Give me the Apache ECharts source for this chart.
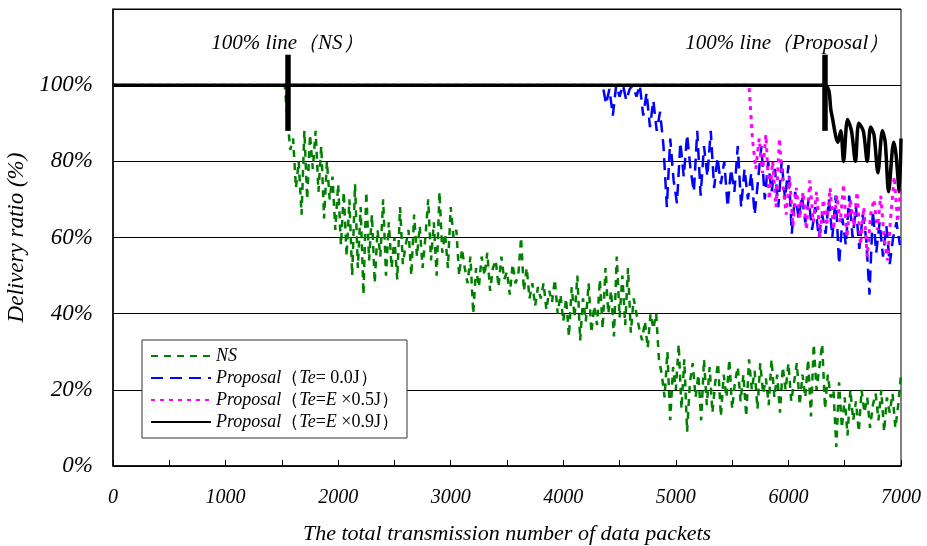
<!DOCTYPE html>
<html>
<head>
<meta charset="utf-8">
<script src="https://cdn.jsdelivr.net/npm/echarts@6/dist/echarts.min.js"></script>
<style>html,body{margin:0;padding:0;background:#fff}#c{width:927px;height:546px}</style>
</head>
<body>
<div id="c"></div>
<script>
// ---- axes ----
const xMin = 0, xMax = 7000, xInterval = 500;
const yMin = 0, yMax = 120, yInterval = 20;
const xAxisName = 'The total transmission number of data packets';
const yAxisName = 'Delivery ratio (%)';

// ---- series names ----
const seriesNames = ['NS', 'Proposal (Te=0.0J)', 'Proposal (Te=E×0.5J)', 'Proposal (Te=E×0.9J)'];

// ---- NS (green): 100% until 1525, then sampled every 25 packets from 1550 ----
const nsFlatX = [0, 1525];
const nsFlatY = [100, 100];
const nsStart = 1550, nsStep = 25;
const nsValues = [
  91, 83, 86, 73, 80, 66, 88, 70, 87, 78,
  88, 72, 84, 65, 80, 70, 76, 62, 74, 58,
  72, 55, 70, 50, 74, 52, 68, 45, 72, 54,
  66, 48, 62, 55, 70, 50, 64, 52, 60, 49,
  68, 53, 58, 62, 50, 66, 55, 63, 52, 60,
  70, 54, 64, 50, 72, 56, 61, 52, 68, 60,
  62, 50, 57, 52, 48, 55, 40, 52, 47, 55,
  50, 56, 46, 52, 54, 47, 55, 49, 51, 45,
  53, 48, 50, 60, 46, 52, 44, 48, 42, 47,
  44, 48, 41, 46, 43, 49, 40, 45, 38, 44,
  34, 47, 39, 50, 33, 44, 38, 48, 35, 42,
  37, 49, 36, 52, 40, 46, 34, 55, 39, 50,
  37, 52, 35, 44, 40, 36, 33, 38, 31, 40,
  36, 40, 28, 24, 18, 30, 12, 26, 20, 32,
  15, 28, 9, 22, 27, 18, 24, 12, 28, 16,
  26, 14, 22, 27, 13, 24, 18, 28, 15, 22,
  26, 17, 24, 13, 28, 20, 25, 15, 27, 19,
  23, 16, 28, 18, 24, 14, 26, 20, 27, 17,
  22, 27, 16, 24, 18, 28, 13, 32, 20, 26,
  32, 15, 24, 18, 20, 5, 22, 10, 18, 8,
  20, 12, 17, 9, 20, 14, 18, 10, 16, 19,
  12, 20, 9, 18, 14, 19, 10, 16, 24
];

// ---- Proposal Te=0.0J (blue): 100% until 4350, then every 30 packets ----
const blueFlatX = [0];
const blueFlatY = [100];
const blueStart = 4350, blueStep = 30;
const blueValues = [
  100, 95, 99, 92, 100, 97, 100, 96, 99, 100,
  97, 100, 92, 98, 89, 96, 88, 93, 84, 68,
  86, 75, 69, 85, 76, 87, 78, 72, 88, 71,
  84, 76, 88, 73, 81, 74, 80, 68, 78, 72,
  84, 68, 78, 70, 77, 66, 75, 84, 70, 80,
  72, 78, 68, 80, 70, 79, 61, 72, 65, 71,
  64, 70, 62, 68, 60, 66, 61, 70, 60, 71,
  53, 65, 58, 71, 60, 68, 57, 66, 60, 45,
  67, 56, 64, 55, 63, 53, 60, 64, 58
];

// ---- Proposal Te=E×0.5J (magenta): 100% until 5650, then every 30 packets ----
const magFlatX = [0];
const magFlatY = [100];
const magStart = 5650, magStep = 30;
const magValues = [
  100, 86, 78, 86, 77, 87, 70, 80, 68, 86,
  74, 66, 76, 63, 73, 65, 72, 62, 75, 64,
  72, 60, 70, 63, 73, 62, 71, 64, 74, 60,
  70, 63, 72, 58, 68, 55, 66, 70, 62, 71,
  60, 54, 66, 76, 64, 74
];

// ---- Proposal Te=E×0.9J (black) ----
const blackX = [0, 6320, 6380, 6440, 6465, 6490, 6525, 6560, 6595, 6625, 6665, 6700, 6730, 6760, 6795, 6835, 6860, 6890, 6935, 6955, 6985, 7000];
const blackY = [100, 100, 93, 85, 88, 80, 91, 88, 80, 90, 88, 80, 89, 87, 77, 88, 85, 72, 85, 82, 72, 86];

// ---- 100% line annotations ----
const markerX = [1550, 6320];
const markerTop = 108, markerBottom = 88;
const annotationTexts = ['100% line（NS）', '100% line（Proposal）'];
const annotationX = [1550, 5990];
const annotationY = 111;

function build(flatX, flatY, start, step, vals) {
  const d = flatX.map((x, i) => [x, flatY[i]]);
  vals.forEach((v, i) => d.push([start + i * step, v]));
  return d;
}

const serif = 'Liberation Serif, Times New Roman, serif';
const legendRich = {
  i: { fontFamily: serif, fontStyle: 'italic', fontSize: 18, color: '#000', lineHeight: 17 },
  n: { fontFamily: serif, fontSize: 18, color: '#000', lineHeight: 17 }
};
const legendFmt = {
  'NS': '{i|NS}',
  'Proposal (Te=0.0J)': '{i|Proposal}{n|（}{i|Te}{n|= 0.0J）}',
  'Proposal (Te=E×0.5J)': '{i|Proposal}{n|（}{i|Te}{n|=}{i|E}{n| ×0.5J）}',
  'Proposal (Te=E×0.9J)': '{i|Proposal}{n|（}{i|Te}{n|=}{i|E}{n| ×0.9J）}'
};

const chart = echarts.init(document.getElementById('c'), null, { renderer: 'canvas' });
chart.setOption({
  animation: false,
  backgroundColor: '#fff',
  grid: { left: 113, right: 26, top: 9, bottom: 80, show: true, borderColor: '#000', borderWidth: 1,
    backgroundColor: 'transparent', containLabel: false, outerBoundsMode: 'none' },
  legend: {
    orient: 'vertical', left: 142, top: 340,
    data: seriesNames,
    itemWidth: 60, itemHeight: 14, itemGap: 4,
    padding: [7, 8, 7, 8],
    backgroundColor: '#fff', borderColor: '#333', borderWidth: 1,
    formatter: n => legendFmt[n],
    itemStyle: { color: 'rgba(0,0,0,0)', borderWidth: 0, opacity: 0 },
    textStyle: { rich: legendRich, lineHeight: 17 },
    z: 10
  },
  xAxis: {
    type: 'value', min: xMin, max: xMax, interval: xInterval,
    name: xAxisName, nameLocation: 'middle', nameGap: 57,
    nameTextStyle: { fontFamily: serif, fontStyle: 'italic', fontSize: 22, color: '#000' },
    axisLine: { lineStyle: { color: '#000', width: 1.5 } },
    axisTick: { inside: true, length: 6, lineStyle: { color: '#000' } },
    axisLabel: { margin: 22, fontFamily: serif, fontStyle: 'italic', fontSize: 20, color: '#000',
      formatter: v => (v % 1000 === 0 ? String(v) : '') },
    splitLine: { show: false }
  },
  yAxis: {
    type: 'value', min: yMin, max: yMax, interval: yInterval,
    name: yAxisName, nameLocation: 'middle', nameGap: 80,
    nameTextStyle: { fontFamily: serif, fontStyle: 'italic', fontSize: 23, color: '#000' },
    axisLine: { show: true, lineStyle: { color: '#000', width: 1.5 } },
    axisTick: { show: false },
    axisLabel: { margin: 20, fontFamily: serif, fontStyle: 'italic', fontSize: 23, color: '#000',
      formatter: v => (v > 100 ? '' : v + '%') },
    splitLine: { show: true, lineStyle: { color: '#000', width: 1 } }
  },
  series: [
    {
      name: seriesNames[0], type: 'line', symbol: 'none',
      data: build(nsFlatX, nsFlatY, nsStart, nsStep, nsValues),
      lineStyle: { color: '#008000', width: 2.5, type: [7, 6] },
      itemStyle: { color: '#008000' }
    },
    {
      name: seriesNames[1], type: 'line', symbol: 'none',
      data: build(blueFlatX, blueFlatY, blueStart, blueStep, blueValues),
      lineStyle: { color: '#0000ff', width: 2.5, type: [12, 7] },
      itemStyle: { color: '#0000ff' }
    },
    {
      name: seriesNames[2], type: 'line', symbol: 'none',
      data: build(magFlatX, magFlatY, magStart, magStep, magValues),
      lineStyle: { color: '#ff00ff', width: 3, type: [4, 5] },
      itemStyle: { color: '#ff00ff' }
    },
    {
      name: seriesNames[3], type: 'line', symbol: 'none', smooth: 0.3,
      data: blackX.map((x, i) => [x, blackY[i]]),
      lineStyle: { color: '#000', width: 3.5 },
      itemStyle: { color: '#000' },
      markLine: {
        silent: true, symbol: ['none', 'none'],
        lineStyle: { color: '#000', width: 5.5, type: 'solid' },
        label: { show: false },
        data: markerX.map(x => [{ coord: [x, markerTop] }, { coord: [x, markerBottom] }])
      },
      markPoint: {
        silent: true, symbol: 'rect', symbolSize: 1,
        itemStyle: { color: 'rgba(0,0,0,0)' },
        label: { show: true, position: 'inside', formatter: '{b}',
          fontFamily: serif, fontStyle: 'italic', fontSize: 21, color: '#000' },
        data: annotationTexts.map((t, i) => ({ name: t, coord: [annotationX[i], annotationY] }))
      }
    }
  ]
});
</script>
</body>
</html>
